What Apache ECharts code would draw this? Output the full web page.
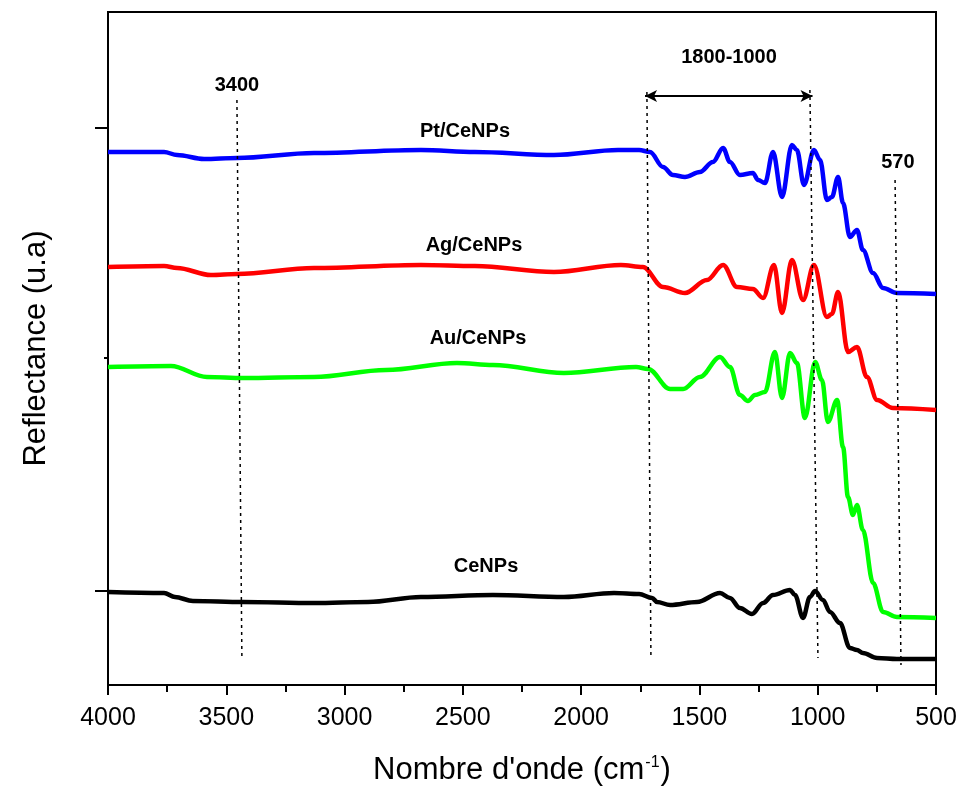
<!DOCTYPE html>
<html>
<head>
<meta charset="utf-8">
<script src="https://cdn.jsdelivr.net/npm/echarts@6/dist/echarts.min.js"></script>
<style>
  html, body { margin: 0; padding: 0; background: #fff; }
  #chart { width: 960px; height: 798px; }
</style>
</head>
<body>
<div id="chart"></div>
<script>
// wavenumber (cm-1) / reflectance (u.a)
const ptWave = [4000, 3763, 3708, 3594, 3455, 3129, 2677, 2449, 2115, 1844, 1755, 1709, 1654, 1612, 1561, 1498, 1443, 1400, 1371, 1329, 1274, 1252, 1223, 1189, 1151, 1109, 1088, 1058, 1016, 990, 961, 940, 914, 893, 864, 834, 809, 766, 724, 665, 500]
const ptRefl = [5.33, 5.33, 5.30, 5.26, 5.27, 5.32, 5.35, 5.33, 5.30, 5.35, 5.35, 5.33, 5.18, 5.10, 5.08, 5.13, 5.23, 5.37, 5.23, 5.10, 5.12, 5.05, 5.02, 5.33, 4.88, 5.40, 5.35, 5.00, 5.35, 5.25, 4.85, 4.88, 5.08, 4.82, 4.48, 4.55, 4.35, 4.12, 3.97, 3.92, 3.91]

const agWave = [4000, 3763, 3708, 3565, 3455, 3129, 2677, 2449, 2115, 1832, 1739, 1654, 1561, 1468, 1400, 1341, 1274, 1231, 1185, 1151, 1109, 1062, 1016, 961, 940, 914, 872, 834, 792, 749, 682, 500]
const agRefl = [4.18, 4.19, 4.17, 4.10, 4.11, 4.17, 4.20, 4.19, 4.13, 4.20, 4.18, 3.98, 3.92, 4.05, 4.20, 3.98, 3.96, 3.87, 4.20, 3.72, 4.25, 3.85, 4.20, 3.68, 3.71, 3.93, 3.33, 3.38, 3.08, 2.85, 2.77, 2.75]

const auWave = [4000, 3734, 3582, 3429, 3129, 2825, 2525, 2373, 2073, 1768, 1717, 1624, 1569, 1498, 1413, 1371, 1329, 1295, 1265, 1223, 1181, 1151, 1117, 1088, 1054, 1011, 982, 957, 918, 893, 872, 851, 834, 809, 766, 724, 665, 500]
const auRefl = [3.18, 3.19, 3.08, 3.07, 3.08, 3.15, 3.22, 3.20, 3.12, 3.18, 3.16, 2.96, 2.96, 3.08, 3.28, 3.18, 2.90, 2.84, 2.90, 2.93, 3.33, 2.87, 3.32, 3.22, 2.67, 3.23, 3.05, 2.63, 2.85, 2.38, 1.88, 1.70, 1.80, 1.55, 1.02, 0.73, 0.68, 0.67]

const ceWave = [4000, 3763, 3717, 3641, 3429, 3129, 2901, 2677, 2373, 2073, 1861, 1755, 1700, 1679, 1624, 1510, 1413, 1371, 1329, 1278, 1231, 1189, 1117, 1096, 1062, 1033, 1011, 978, 948, 906, 864, 834, 809, 749, 665, 500]
const ceRefl = [0.93, 0.92, 0.88, 0.84, 0.83, 0.82, 0.83, 0.88, 0.90, 0.88, 0.92, 0.91, 0.87, 0.83, 0.80, 0.83, 0.92, 0.87, 0.77, 0.71, 0.82, 0.90, 0.95, 0.90, 0.67, 0.88, 0.94, 0.85, 0.73, 0.62, 0.37, 0.35, 0.32, 0.27, 0.26, 0.26]

const seriesNames = ['Pt/CeNPs', 'Ag/CeNPs', 'Au/CeNPs', 'CeNPs']
const seriesColors = ['#0000ff', '#ff0000', '#00ff00', '#000000']

// dotted guide lines [x top, y top, x bottom, y bottom]
const guideLines = [
    [3455, 5.85, 3434, 0.27],
    [1722, 5.93, 1705, 0.27],
    [1033, 5.95, 999, 0.27],
    [673, 5.05, 648, 0.20]
]
const rangeArrow = [1730, 1022, 5.89]

const annotTexts = ['3400', '1800-1000', '570', 'Pt/CeNPs', 'Ag/CeNPs', 'Au/CeNPs', 'CeNPs']
const annotX = [3455, 1375, 661, 2491, 2453, 2436, 2402]
const annotY = [6.00, 6.28, 5.23, 5.54, 4.40, 3.47, 1.19]

const yMajorTicks = [0.94, 5.57]
const yMinorTicks = [3.27]

const chartDom = document.getElementById('chart')
const chart = echarts.init(chartDom)

function zip(xs, ys) {
    let out = []
    for (let i = 0; i < xs.length; i++) {
        out.push([xs[i], ys[i]])
    }
    return out
}

const allData = [zip(ptWave, ptRefl), zip(agWave, agRefl), zip(auWave, auRefl), zip(ceWave, ceRefl)]

let series = allData.map((d, i) => ({
    type: 'line',
    name: seriesNames[i],
    data: d,
    showSymbol: false,
    smooth: 0.35,
    smoothMonotone: 'x',
    lineStyle: { color: seriesColors[i], width: 4.5 },
    itemStyle: { color: seriesColors[i] },
    silent: true,
    z: 3
}))

// annotations go on an empty helper series
series.push({
    type: 'line',
    data: [],
    silent: true,
    markLine: {
        silent: true,
        animation: false,
        symbol: 'none',
        label: { show: false },
        lineStyle: { color: '#000', type: [3, 4], width: 1.5 },
        data: guideLines.map(g => [{ coord: [g[0], g[1]] }, { coord: [g[2], g[3]] }]).concat([
            [
                { coord: [rangeArrow[0], rangeArrow[2]], symbol: 'arrow', symbolSize: [9, 12], lineStyle: { type: 'solid', width: 2 } },
                { coord: [rangeArrow[1], rangeArrow[2]], symbol: 'arrow', symbolSize: [9, 12] }
            ]
        ])
    },
    markPoint: {
        silent: true,
        animation: false,
        symbol: 'circle',
        symbolSize: 0,
        data: annotTexts.map((t, i) => ({
            coord: [annotX[i], annotY[i]],
            label: {
                show: true,
                position: 'inside',
                formatter: t,
                color: '#000',
                fontSize: 20,
                fontWeight: 'bold',
                fontFamily: 'Liberation Sans, Arial, sans-serif'
            }
        }))
    }
})

let option = {
    animation: false,
    grid: {
        left: 108,
        right: 24,
        top: 12,
        bottom: 113,
        show: true,
        borderColor: '#000',
        borderWidth: 2,
        backgroundColor: 'transparent'
    },
    xAxis: {
        type: 'value',
        inverse: true,
        min: 500,
        max: 4000,
        interval: 500,
        name: "Nombre d'onde (cm{sup|-1})",
        nameLocation: 'middle',
        nameGap: 70,
        nameTextStyle: {
            fontSize: 31,
            color: '#000',
            fontFamily: 'Liberation Sans, Arial, sans-serif',
            rich: {
                sup: {
                    fontSize: 16,
                    color: '#000',
                    fontFamily: 'Liberation Sans, Arial, sans-serif',
                    verticalAlign: 'top',
                    padding: [0, 1, 14, 1]
                }
            }
        },
        axisLine: { lineStyle: { color: '#000', width: 2 } },
        axisTick: { show: true, inside: false, length: 10, lineStyle: { color: '#000', width: 2 } },
        minorTick: { show: true, splitNumber: 2, length: 7, lineStyle: { color: '#000', width: 2 } },
        axisLabel: {
            margin: 21,
            fontSize: 25,
            color: '#000',
            fontFamily: 'Liberation Sans, Arial, sans-serif',
            formatter: v => String(v)
        },
        splitLine: { show: false }
    },
    yAxis: [
        {
            type: 'value',
            min: 0,
            max: 6.73,
            name: 'Reflectance (u.a)',
            nameLocation: 'middle',
            nameGap: 56,
            nameTextStyle: {
                fontSize: 31,
                color: '#000',
                fontFamily: 'Liberation Sans, Arial, sans-serif'
            },
            axisLine: { show: true, lineStyle: { color: '#000', width: 2 } },
            axisTick: { show: true, inside: false, length: 13, customValues: yMajorTicks, lineStyle: { color: '#000', width: 2 } },
            axisLabel: { show: false },
            splitLine: { show: false }
        },
        {
            type: 'value',
            min: 0,
            max: 6.73,
            position: 'left',
            axisLine: { show: false },
            axisTick: { show: true, inside: false, length: 4, customValues: yMinorTicks, lineStyle: { color: '#000', width: 2 } },
            axisLabel: { show: false },
            splitLine: { show: false }
        }
    ],
    series: series
}

chart.setOption(option)
</script>
</body>
</html>
